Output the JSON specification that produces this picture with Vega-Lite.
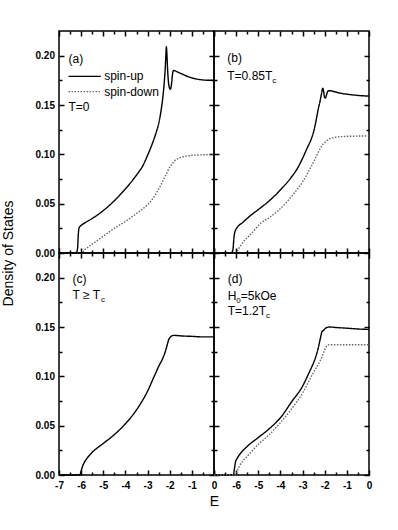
{
  "$schema": "https://vega.github.io/schema/vega-lite/v6.json",
  "padding": {"left": 0, "top": 29, "right": 5, "bottom": 5},
  "columns": 2,
  "spacing": 0,
  "bounds": "flush",
  "datasets": {
    "a": [
      {"E": -7, "DOS": 0, "spin": "spin-up"}, {"E": -6.5, "DOS": 0, "spin": "spin-up"}, {"E": -6.3, "DOS": 0.0003, "spin": "spin-up"}, {"E": -6.2, "DOS": 0.001, "spin": "spin-up"}, {"E": -6.16, "DOS": 0.005, "spin": "spin-up"}, {"E": -6.13, "DOS": 0.018, "spin": "spin-up"}, {"E": -6.1, "DOS": 0.025, "spin": "spin-up"}, {"E": -6.05, "DOS": 0.027, "spin": "spin-up"}, {"E": -6.0, "DOS": 0.028, "spin": "spin-up"}, {"E": -5.8, "DOS": 0.031, "spin": "spin-up"}, {"E": -5.5, "DOS": 0.035, "spin": "spin-up"}, {"E": -5.0, "DOS": 0.043, "spin": "spin-up"}, {"E": -4.5, "DOS": 0.053, "spin": "spin-up"}, {"E": -4.0, "DOS": 0.065, "spin": "spin-up"}, {"E": -3.5, "DOS": 0.079, "spin": "spin-up"}, {"E": -3.2, "DOS": 0.089, "spin": "spin-up"}, {"E": -3.0, "DOS": 0.099, "spin": "spin-up"}, {"E": -2.8, "DOS": 0.11, "spin": "spin-up"}, {"E": -2.6, "DOS": 0.123, "spin": "spin-up"}, {"E": -2.5, "DOS": 0.131, "spin": "spin-up"}, {"E": -2.4, "DOS": 0.143, "spin": "spin-up"}, {"E": -2.3, "DOS": 0.16, "spin": "spin-up"}, {"E": -2.25, "DOS": 0.172, "spin": "spin-up"}, {"E": -2.2, "DOS": 0.188, "spin": "spin-up"}, {"E": -2.17, "DOS": 0.202, "spin": "spin-up"}, {"E": -2.15, "DOS": 0.209, "spin": "spin-up"}, {"E": -2.13, "DOS": 0.203, "spin": "spin-up"}, {"E": -2.1, "DOS": 0.188, "spin": "spin-up"}, {"E": -2.06, "DOS": 0.174, "spin": "spin-up"}, {"E": -2.02, "DOS": 0.168, "spin": "spin-up"}, {"E": -1.97, "DOS": 0.166, "spin": "spin-up"}, {"E": -1.92, "DOS": 0.171, "spin": "spin-up"}, {"E": -1.88, "DOS": 0.18, "spin": "spin-up"}, {"E": -1.83, "DOS": 0.185, "spin": "spin-up"}, {"E": -1.75, "DOS": 0.1845, "spin": "spin-up"}, {"E": -1.6, "DOS": 0.183, "spin": "spin-up"}, {"E": -1.4, "DOS": 0.181, "spin": "spin-up"}, {"E": -1.2, "DOS": 0.179, "spin": "spin-up"}, {"E": -1.0, "DOS": 0.1775, "spin": "spin-up"}, {"E": -0.7, "DOS": 0.176, "spin": "spin-up"}, {"E": -0.4, "DOS": 0.1752, "spin": "spin-up"}, {"E": 0, "DOS": 0.175, "spin": "spin-up"},
      {"E": -7, "DOS": 0, "spin": "spin-down"}, {"E": -6.0, "DOS": 0, "spin": "spin-down"}, {"E": -5.8, "DOS": 0.004, "spin": "spin-down"}, {"E": -5.5, "DOS": 0.009, "spin": "spin-down"}, {"E": -5.0, "DOS": 0.017, "spin": "spin-down"}, {"E": -4.5, "DOS": 0.025, "spin": "spin-down"}, {"E": -4.0, "DOS": 0.032, "spin": "spin-down"}, {"E": -3.5, "DOS": 0.04, "spin": "spin-down"}, {"E": -3.2, "DOS": 0.045, "spin": "spin-down"}, {"E": -3.0, "DOS": 0.049, "spin": "spin-down"}, {"E": -2.8, "DOS": 0.054, "spin": "spin-down"}, {"E": -2.6, "DOS": 0.061, "spin": "spin-down"}, {"E": -2.4, "DOS": 0.069, "spin": "spin-down"}, {"E": -2.2, "DOS": 0.078, "spin": "spin-down"}, {"E": -2.0, "DOS": 0.087, "spin": "spin-down"}, {"E": -1.9, "DOS": 0.09, "spin": "spin-down"}, {"E": -1.8, "DOS": 0.093, "spin": "spin-down"}, {"E": -1.6, "DOS": 0.096, "spin": "spin-down"}, {"E": -1.4, "DOS": 0.0975, "spin": "spin-down"}, {"E": -1.2, "DOS": 0.0985, "spin": "spin-down"}, {"E": -1.0, "DOS": 0.099, "spin": "spin-down"}, {"E": -0.5, "DOS": 0.0995, "spin": "spin-down"}, {"E": 0, "DOS": 0.1, "spin": "spin-down"}
    ],
    "b": [
      {"E": -7, "DOS": 0, "spin": "spin-up"}, {"E": -6.5, "DOS": 0, "spin": "spin-up"}, {"E": -6.2, "DOS": 0.0005, "spin": "spin-up"}, {"E": -6.14, "DOS": 0.004, "spin": "spin-up"}, {"E": -6.11, "DOS": 0.013, "spin": "spin-up"}, {"E": -6.08, "DOS": 0.019, "spin": "spin-up"}, {"E": -6.03, "DOS": 0.023, "spin": "spin-up"}, {"E": -5.95, "DOS": 0.026, "spin": "spin-up"}, {"E": -5.7, "DOS": 0.031, "spin": "spin-up"}, {"E": -5.35, "DOS": 0.038, "spin": "spin-up"}, {"E": -5.0, "DOS": 0.044, "spin": "spin-up"}, {"E": -4.5, "DOS": 0.053, "spin": "spin-up"}, {"E": -4.0, "DOS": 0.064, "spin": "spin-up"}, {"E": -3.5, "DOS": 0.077, "spin": "spin-up"}, {"E": -3.2, "DOS": 0.087, "spin": "spin-up"}, {"E": -3.0, "DOS": 0.096, "spin": "spin-up"}, {"E": -2.8, "DOS": 0.106, "spin": "spin-up"}, {"E": -2.6, "DOS": 0.116, "spin": "spin-up"}, {"E": -2.5, "DOS": 0.123, "spin": "spin-up"}, {"E": -2.4, "DOS": 0.133, "spin": "spin-up"}, {"E": -2.3, "DOS": 0.145, "spin": "spin-up"}, {"E": -2.2, "DOS": 0.155, "spin": "spin-up"}, {"E": -2.14, "DOS": 0.162, "spin": "spin-up"}, {"E": -2.09, "DOS": 0.167, "spin": "spin-up"}, {"E": -2.05, "DOS": 0.164, "spin": "spin-up"}, {"E": -2.01, "DOS": 0.158, "spin": "spin-up"}, {"E": -1.97, "DOS": 0.157, "spin": "spin-up"}, {"E": -1.92, "DOS": 0.16, "spin": "spin-up"}, {"E": -1.86, "DOS": 0.164, "spin": "spin-up"}, {"E": -1.78, "DOS": 0.1645, "spin": "spin-up"}, {"E": -1.6, "DOS": 0.1637, "spin": "spin-up"}, {"E": -1.3, "DOS": 0.162, "spin": "spin-up"}, {"E": -1.0, "DOS": 0.161, "spin": "spin-up"}, {"E": -0.5, "DOS": 0.1597, "spin": "spin-up"}, {"E": 0, "DOS": 0.159, "spin": "spin-up"},
      {"E": -7, "DOS": 0, "spin": "spin-down"}, {"E": -6.02, "DOS": 0, "spin": "spin-down"}, {"E": -5.9, "DOS": 0.004, "spin": "spin-down"}, {"E": -5.65, "DOS": 0.012, "spin": "spin-down"}, {"E": -5.3, "DOS": 0.02, "spin": "spin-down"}, {"E": -4.9, "DOS": 0.03, "spin": "spin-down"}, {"E": -4.5, "DOS": 0.036, "spin": "spin-down"}, {"E": -4.1, "DOS": 0.043, "spin": "spin-down"}, {"E": -3.7, "DOS": 0.052, "spin": "spin-down"}, {"E": -3.4, "DOS": 0.06, "spin": "spin-down"}, {"E": -3.0, "DOS": 0.072, "spin": "spin-down"}, {"E": -2.65, "DOS": 0.086, "spin": "spin-down"}, {"E": -2.4, "DOS": 0.097, "spin": "spin-down"}, {"E": -2.2, "DOS": 0.106, "spin": "spin-down"}, {"E": -2.05, "DOS": 0.111, "spin": "spin-down"}, {"E": -1.95, "DOS": 0.113, "spin": "spin-down"}, {"E": -1.8, "DOS": 0.1155, "spin": "spin-down"}, {"E": -1.6, "DOS": 0.117, "spin": "spin-down"}, {"E": -1.2, "DOS": 0.118, "spin": "spin-down"}, {"E": -0.5, "DOS": 0.1185, "spin": "spin-down"}, {"E": 0, "DOS": 0.1187, "spin": "spin-down"}
    ],
    "c": [
      {"E": -7, "DOS": 0, "spin": "spin-up"}, {"E": -6.06, "DOS": 0, "spin": "spin-up"}, {"E": -6.0, "DOS": 0.004, "spin": "spin-up"}, {"E": -5.95, "DOS": 0.008, "spin": "spin-up"}, {"E": -5.85, "DOS": 0.013, "spin": "spin-up"}, {"E": -5.7, "DOS": 0.018, "spin": "spin-up"}, {"E": -5.5, "DOS": 0.023, "spin": "spin-up"}, {"E": -5.0, "DOS": 0.032, "spin": "spin-up"}, {"E": -4.5, "DOS": 0.041, "spin": "spin-up"}, {"E": -4.0, "DOS": 0.052, "spin": "spin-up"}, {"E": -3.5, "DOS": 0.066, "spin": "spin-up"}, {"E": -3.0, "DOS": 0.085, "spin": "spin-up"}, {"E": -2.7, "DOS": 0.1, "spin": "spin-up"}, {"E": -2.5, "DOS": 0.11, "spin": "spin-up"}, {"E": -2.3, "DOS": 0.119, "spin": "spin-up"}, {"E": -2.2, "DOS": 0.125, "spin": "spin-up"}, {"E": -2.1, "DOS": 0.133, "spin": "spin-up"}, {"E": -2.05, "DOS": 0.137, "spin": "spin-up"}, {"E": -2.0, "DOS": 0.139, "spin": "spin-up"}, {"E": -1.9, "DOS": 0.141, "spin": "spin-up"}, {"E": -1.8, "DOS": 0.1415, "spin": "spin-up"}, {"E": -1.5, "DOS": 0.141, "spin": "spin-up"}, {"E": -1.0, "DOS": 0.1405, "spin": "spin-up"}, {"E": -0.5, "DOS": 0.14, "spin": "spin-up"}, {"E": 0, "DOS": 0.14, "spin": "spin-up"}
    ],
    "d": [
      {"E": -7, "DOS": 0, "spin": "spin-up"}, {"E": -6.12, "DOS": 0, "spin": "spin-up"}, {"E": -6.08, "DOS": 0.006, "spin": "spin-up"}, {"E": -6.03, "DOS": 0.013, "spin": "spin-up"}, {"E": -5.95, "DOS": 0.017, "spin": "spin-up"}, {"E": -5.8, "DOS": 0.022, "spin": "spin-up"}, {"E": -5.5, "DOS": 0.029, "spin": "spin-up"}, {"E": -5.0, "DOS": 0.038, "spin": "spin-up"}, {"E": -4.5, "DOS": 0.047, "spin": "spin-up"}, {"E": -4.0, "DOS": 0.058, "spin": "spin-up"}, {"E": -3.5, "DOS": 0.074, "spin": "spin-up"}, {"E": -3.0, "DOS": 0.09, "spin": "spin-up"}, {"E": -2.7, "DOS": 0.104, "spin": "spin-up"}, {"E": -2.5, "DOS": 0.114, "spin": "spin-up"}, {"E": -2.4, "DOS": 0.12, "spin": "spin-up"}, {"E": -2.3, "DOS": 0.128, "spin": "spin-up"}, {"E": -2.2, "DOS": 0.138, "spin": "spin-up"}, {"E": -2.12, "DOS": 0.1455, "spin": "spin-up"}, {"E": -2.06, "DOS": 0.1465, "spin": "spin-up"}, {"E": -2.0, "DOS": 0.148, "spin": "spin-up"}, {"E": -1.9, "DOS": 0.1495, "spin": "spin-up"}, {"E": -1.8, "DOS": 0.15, "spin": "spin-up"}, {"E": -1.5, "DOS": 0.1495, "spin": "spin-up"}, {"E": -1.0, "DOS": 0.1488, "spin": "spin-up"}, {"E": -0.5, "DOS": 0.148, "spin": "spin-up"}, {"E": 0, "DOS": 0.1475, "spin": "spin-up"},
      {"E": -7, "DOS": 0, "spin": "spin-down"}, {"E": -6.0, "DOS": 0, "spin": "spin-down"}, {"E": -5.95, "DOS": 0.004, "spin": "spin-down"}, {"E": -5.85, "DOS": 0.009, "spin": "spin-down"}, {"E": -5.7, "DOS": 0.014, "spin": "spin-down"}, {"E": -5.5, "DOS": 0.019, "spin": "spin-down"}, {"E": -5.0, "DOS": 0.031, "spin": "spin-down"}, {"E": -4.5, "DOS": 0.041, "spin": "spin-down"}, {"E": -4.0, "DOS": 0.053, "spin": "spin-down"}, {"E": -3.5, "DOS": 0.067, "spin": "spin-down"}, {"E": -3.0, "DOS": 0.083, "spin": "spin-down"}, {"E": -2.65, "DOS": 0.098, "spin": "spin-down"}, {"E": -2.4, "DOS": 0.108, "spin": "spin-down"}, {"E": -2.2, "DOS": 0.116, "spin": "spin-down"}, {"E": -2.1, "DOS": 0.121, "spin": "spin-down"}, {"E": -2.0, "DOS": 0.127, "spin": "spin-down"}, {"E": -1.9, "DOS": 0.131, "spin": "spin-down"}, {"E": -1.8, "DOS": 0.132, "spin": "spin-down"}, {"E": -1.0, "DOS": 0.132, "spin": "spin-down"}, {"E": 0, "DOS": 0.132, "spin": "spin-down"}
    ]
  },
  "concat": [
    {
      "width": 155, "height": 222,
      "data": {"name": "a"},
      "resolve": {"axis": {"x": "independent", "y": "independent"}},
      "layer": [
        {"mark": {"type": "line", "interpolate": "monotone", "strokeWidth": 1.4},
         "encoding": {
           "x": {"field": "E", "type": "quantitative", "scale": {"domain": [-7, 0], "nice": false, "zero": false}, "axis": {"orient": "top", "offset": -222, "values": [-7, -6, -5, -4, -3, -2, -1, 0], "tickSize": 5, "labels": false, "title": null}},
           "y": {"field": "DOS", "type": "quantitative", "scale": {"domain": [0, 0.225], "nice": false}, "axis": {"orient": "right", "offset": -155, "values": [0, 0.05, 0.1, 0.15, 0.2], "tickSize": 5, "labels": false, "title": null}},
           "color": {"field": "spin", "type": "nominal", "scale": {"domain": ["spin-up", "spin-down"], "range": ["black", "#666666"]}, "legend": null},
           "strokeDash": {"field": "spin", "type": "nominal", "scale": {"domain": ["spin-up", "spin-down"], "range": [[1, 0], [1.5, 1.5]]}, "legend": null}
         }},
        {"mark": {"type": "point", "opacity": 0},
         "encoding": {
           "x": {"field": "E", "type": "quantitative", "axis": {"orient": "bottom", "offset": -222, "values": [-7, -6, -5, -4, -3, -2, -1, 0], "tickSize": 5, "labels": false, "title": null}},
           "y": {"field": "DOS", "type": "quantitative", "axis": {"orient": "left", "offset": -155, "values": [0, 0.05, 0.1, 0.15, 0.2], "tickSize": 5, "labels": false, "title": null}}
         }},
        {"mark": {"type": "point", "opacity": 0},
         "encoding": {
           "x": {"field": "E", "type": "quantitative", "axis": {"orient": "top", "offset": -222, "values": [-6.5, -5.5, -4.5, -3.5, -2.5, -1.5, -0.5], "tickSize": 3, "labels": false, "title": null}},
           "y": {"field": "DOS", "type": "quantitative", "axis": {"orient": "right", "offset": -155, "values": [0.025, 0.075, 0.125, 0.175], "tickSize": 3, "labels": false, "title": null}}
         }},
        {"mark": {"type": "point", "opacity": 0},
         "encoding": {
           "x": {"field": "E", "type": "quantitative", "axis": {"orient": "bottom", "offset": -222, "values": [-6.5, -5.5, -4.5, -3.5, -2.5, -1.5, -0.5], "tickSize": 3, "labels": false, "title": null}},
           "y": {"field": "DOS", "type": "quantitative", "axis": {"orient": "left", "offset": -155, "values": [0.025, 0.075, 0.125, 0.175], "tickSize": 3, "labels": false, "title": null}}
         }},
        {"mark": {"type": "point", "opacity": 0},
         "encoding": {
           "x": {"field": "E", "type": "quantitative", "axis": null},
           "y": {"field": "DOS", "type": "quantitative", "axis": {"orient": "left", "values": [0, 0.05, 0.1, 0.15, 0.2], "ticks": false, "tickSize": 0, "format": ".2f", "labelPadding": 4.5, "title": "Density of States", "titleX": -50.5, "titleY": 222, "titleBaseline": "middle", "titleAlign": "center", "titleAngle": -90}}
         }},
        {"data": {"values": [{}]}, "mark": {"type": "text", "text": "(a)", "align": "left", "baseline": "middle"},
         "encoding": {"x": {"datum": -6.57, "type": "quantitative", "axis": null}, "y": {"datum": 0.1966, "type": "quantitative", "axis": null}}},
        {"data": {"values": [{}]}, "mark": {"type": "text", "text": "T=0", "align": "left", "baseline": "middle"},
         "encoding": {"x": {"datum": -6.57, "type": "quantitative", "axis": null}, "y": {"datum": 0.1477, "type": "quantitative", "axis": null}}},
        {"data": {"values": [{}]}, "mark": {"type": "rule", "color": "black", "strokeWidth": 1.4},
         "encoding": {"x": {"datum": -6.57, "type": "quantitative", "axis": null}, "x2": {"datum": -5.11}, "y": {"datum": 0.179, "type": "quantitative", "axis": null}}},
        {"data": {"values": [{}]}, "mark": {"type": "rule", "color": "#666666", "strokeWidth": 1.4, "strokeDash": [1.5, 1.5]},
         "encoding": {"x": {"datum": -6.57, "type": "quantitative", "axis": null}, "x2": {"datum": -5.11}, "y": {"datum": 0.1636, "type": "quantitative", "axis": null}}},
        {"data": {"values": [{}]}, "mark": {"type": "text", "text": "spin-up", "align": "left", "baseline": "middle"},
         "encoding": {"x": {"datum": -4.96, "type": "quantitative", "axis": null}, "y": {"datum": 0.179, "type": "quantitative", "axis": null}}},
        {"data": {"values": [{}]}, "mark": {"type": "text", "text": "spin-down", "align": "left", "baseline": "middle"},
         "encoding": {"x": {"datum": -4.96, "type": "quantitative", "axis": null}, "y": {"datum": 0.1636, "type": "quantitative", "axis": null}}}
      ]
    },
    {
      "width": 155, "height": 222,
      "data": {"name": "b"},
      "resolve": {"axis": {"x": "independent", "y": "independent"}},
      "layer": [
        {"mark": {"type": "line", "interpolate": "monotone", "strokeWidth": 1.4},
         "encoding": {
           "x": {"field": "E", "type": "quantitative", "scale": {"domain": [-7, 0], "nice": false, "zero": false}, "axis": {"orient": "top", "offset": -222, "values": [-7, -6, -5, -4, -3, -2, -1, 0], "tickSize": 5, "labels": false, "title": null}},
           "y": {"field": "DOS", "type": "quantitative", "scale": {"domain": [0, 0.225], "nice": false}, "axis": {"orient": "right", "offset": -155, "values": [0, 0.05, 0.1, 0.15, 0.2], "tickSize": 5, "labels": false, "title": null}},
           "color": {"field": "spin", "type": "nominal", "scale": {"domain": ["spin-up", "spin-down"], "range": ["black", "#666666"]}, "legend": null},
           "strokeDash": {"field": "spin", "type": "nominal", "scale": {"domain": ["spin-up", "spin-down"], "range": [[1, 0], [1.5, 1.5]]}, "legend": null}
         }},
        {"mark": {"type": "point", "opacity": 0},
         "encoding": {
           "x": {"field": "E", "type": "quantitative", "axis": {"orient": "bottom", "offset": -222, "values": [-7, -6, -5, -4, -3, -2, -1, 0], "tickSize": 5, "labels": false, "title": null}},
           "y": {"field": "DOS", "type": "quantitative", "axis": {"orient": "left", "offset": -155, "values": [0, 0.05, 0.1, 0.15, 0.2], "tickSize": 5, "labels": false, "title": null}}
         }},
        {"mark": {"type": "point", "opacity": 0},
         "encoding": {
           "x": {"field": "E", "type": "quantitative", "axis": {"orient": "top", "offset": -222, "values": [-6.5, -5.5, -4.5, -3.5, -2.5, -1.5, -0.5], "tickSize": 3, "labels": false, "title": null}},
           "y": {"field": "DOS", "type": "quantitative", "axis": {"orient": "right", "offset": -155, "values": [0.025, 0.075, 0.125, 0.175], "tickSize": 3, "labels": false, "title": null}}
         }},
        {"mark": {"type": "point", "opacity": 0},
         "encoding": {
           "x": {"field": "E", "type": "quantitative", "axis": {"orient": "bottom", "offset": -222, "values": [-6.5, -5.5, -4.5, -3.5, -2.5, -1.5, -0.5], "tickSize": 3, "labels": false, "title": null}},
           "y": {"field": "DOS", "type": "quantitative", "axis": {"orient": "left", "offset": -155, "values": [0.025, 0.075, 0.125, 0.175], "tickSize": 3, "labels": false, "title": null}}
         }},
        {"data": {"values": [{}]}, "mark": {"type": "text", "text": "(b)", "align": "left", "baseline": "middle"},
         "encoding": {"x": {"datum": -6.4, "type": "quantitative", "axis": null}, "y": {"datum": 0.1976, "type": "quantitative", "axis": null}}},
        {"data": {"values": [{}]}, "mark": {"type": "text", "text": "T=0.85T", "align": "left", "baseline": "middle"},
         "encoding": {"x": {"datum": -6.4, "type": "quantitative", "axis": null}, "y": {"datum": 0.179, "type": "quantitative", "axis": null}}},
        {"data": {"values": [{}]}, "mark": {"type": "text", "text": "c", "align": "left", "baseline": "middle", "fontSize": 8},
         "encoding": {"x": {"datum": -4.37, "type": "quantitative", "axis": null}, "y": {"datum": 0.174, "type": "quantitative", "axis": null}}}
      ]
    },
    {
      "width": 155, "height": 222,
      "data": {"name": "c"},
      "resolve": {"axis": {"x": "independent", "y": "independent"}},
      "layer": [
        {"mark": {"type": "line", "interpolate": "monotone", "strokeWidth": 1.4},
         "encoding": {
           "x": {"field": "E", "type": "quantitative", "scale": {"domain": [-7, 0], "nice": false, "zero": false}, "axis": {"orient": "top", "offset": -222, "values": [-7, -6, -5, -4, -3, -2, -1, 0], "tickSize": 5, "labels": false, "title": null}},
           "y": {"field": "DOS", "type": "quantitative", "scale": {"domain": [0, 0.225], "nice": false}, "axis": {"orient": "right", "offset": -155, "values": [0, 0.05, 0.1, 0.15, 0.2], "tickSize": 5, "labels": false, "title": null}},
           "color": {"field": "spin", "type": "nominal", "scale": {"domain": ["spin-up", "spin-down"], "range": ["black", "#666666"]}, "legend": null},
           "strokeDash": {"field": "spin", "type": "nominal", "scale": {"domain": ["spin-up", "spin-down"], "range": [[1, 0], [1.5, 1.5]]}, "legend": null}
         }},
        {"mark": {"type": "point", "opacity": 0},
         "encoding": {
           "x": {"field": "E", "type": "quantitative", "axis": {"orient": "bottom", "offset": -222, "values": [-7, -6, -5, -4, -3, -2, -1, 0], "tickSize": 5, "labels": false, "title": null}},
           "y": {"field": "DOS", "type": "quantitative", "axis": {"orient": "left", "offset": -155, "values": [0, 0.05, 0.1, 0.15, 0.2], "tickSize": 5, "labels": false, "title": null}}
         }},
        {"mark": {"type": "point", "opacity": 0},
         "encoding": {
           "x": {"field": "E", "type": "quantitative", "axis": {"orient": "top", "offset": -222, "values": [-6.5, -5.5, -4.5, -3.5, -2.5, -1.5, -0.5], "tickSize": 3, "labels": false, "title": null}},
           "y": {"field": "DOS", "type": "quantitative", "axis": {"orient": "right", "offset": -155, "values": [0.025, 0.075, 0.125, 0.175], "tickSize": 3, "labels": false, "title": null}}
         }},
        {"mark": {"type": "point", "opacity": 0},
         "encoding": {
           "x": {"field": "E", "type": "quantitative", "axis": {"orient": "bottom", "offset": -222, "values": [-6.5, -5.5, -4.5, -3.5, -2.5, -1.5, -0.5], "tickSize": 3, "labels": false, "title": null}},
           "y": {"field": "DOS", "type": "quantitative", "axis": {"orient": "left", "offset": -155, "values": [0.025, 0.075, 0.125, 0.175], "tickSize": 3, "labels": false, "title": null}}
         }},
        {"mark": {"type": "point", "opacity": 0},
         "encoding": {
           "x": {"field": "E", "type": "quantitative", "axis": {"orient": "bottom", "values": [-7, -6, -5, -4, -3, -2, -1, 0], "ticks": false, "tickSize": 0, "labelPadding": 5, "labelExpr": "'' + datum.value", "title": "E", "titleX": 155, "titleY": 26.5, "titleBaseline": "middle", "titleAlign": "center"}},
           "y": {"field": "DOS", "type": "quantitative", "axis": {"orient": "left", "values": [0, 0.05, 0.1, 0.15, 0.2], "ticks": false, "tickSize": 0, "format": ".2f", "labelPadding": 4.5, "title": null}}
         }},
        {"data": {"values": [{}]}, "mark": {"type": "text", "text": "(c)", "align": "left", "baseline": "middle"},
         "encoding": {"x": {"datum": -6.39, "type": "quantitative", "axis": null}, "y": {"datum": 0.199, "type": "quantitative", "axis": null}}},
        {"data": {"values": [{}]}, "mark": {"type": "text", "text": "T ≥ T", "align": "left", "baseline": "middle"},
         "encoding": {"x": {"datum": -6.39, "type": "quantitative", "axis": null}, "y": {"datum": 0.1826, "type": "quantitative", "axis": null}}},
        {"data": {"values": [{}]}, "mark": {"type": "text", "text": "c", "align": "left", "baseline": "middle", "fontSize": 8},
         "encoding": {"x": {"datum": -5.1, "type": "quantitative", "axis": null}, "y": {"datum": 0.1776, "type": "quantitative", "axis": null}}}
      ]
    },
    {
      "width": 155, "height": 222,
      "data": {"name": "d"},
      "resolve": {"axis": {"x": "independent", "y": "independent"}},
      "layer": [
        {"mark": {"type": "line", "interpolate": "monotone", "strokeWidth": 1.4},
         "encoding": {
           "x": {"field": "E", "type": "quantitative", "scale": {"domain": [-7, 0], "nice": false, "zero": false}, "axis": {"orient": "top", "offset": -222, "values": [-7, -6, -5, -4, -3, -2, -1, 0], "tickSize": 5, "labels": false, "title": null}},
           "y": {"field": "DOS", "type": "quantitative", "scale": {"domain": [0, 0.225], "nice": false}, "axis": {"orient": "right", "offset": -155, "values": [0, 0.05, 0.1, 0.15, 0.2], "tickSize": 5, "labels": false, "title": null}},
           "color": {"field": "spin", "type": "nominal", "scale": {"domain": ["spin-up", "spin-down"], "range": ["black", "#666666"]}, "legend": null},
           "strokeDash": {"field": "spin", "type": "nominal", "scale": {"domain": ["spin-up", "spin-down"], "range": [[1, 0], [1.5, 1.5]]}, "legend": null}
         }},
        {"mark": {"type": "point", "opacity": 0},
         "encoding": {
           "x": {"field": "E", "type": "quantitative", "axis": {"orient": "bottom", "offset": -222, "values": [-7, -6, -5, -4, -3, -2, -1, 0], "tickSize": 5, "labels": false, "title": null}},
           "y": {"field": "DOS", "type": "quantitative", "axis": {"orient": "left", "offset": -155, "values": [0, 0.05, 0.1, 0.15, 0.2], "tickSize": 5, "labels": false, "title": null}}
         }},
        {"mark": {"type": "point", "opacity": 0},
         "encoding": {
           "x": {"field": "E", "type": "quantitative", "axis": {"orient": "top", "offset": -222, "values": [-6.5, -5.5, -4.5, -3.5, -2.5, -1.5, -0.5], "tickSize": 3, "labels": false, "title": null}},
           "y": {"field": "DOS", "type": "quantitative", "axis": {"orient": "right", "offset": -155, "values": [0.025, 0.075, 0.125, 0.175], "tickSize": 3, "labels": false, "title": null}}
         }},
        {"mark": {"type": "point", "opacity": 0},
         "encoding": {
           "x": {"field": "E", "type": "quantitative", "axis": {"orient": "bottom", "offset": -222, "values": [-6.5, -5.5, -4.5, -3.5, -2.5, -1.5, -0.5], "tickSize": 3, "labels": false, "title": null}},
           "y": {"field": "DOS", "type": "quantitative", "axis": {"orient": "left", "offset": -155, "values": [0.025, 0.075, 0.125, 0.175], "tickSize": 3, "labels": false, "title": null}}
         }},
        {"mark": {"type": "point", "opacity": 0},
         "encoding": {
           "x": {"field": "E", "type": "quantitative", "axis": {"orient": "bottom", "values": [-6, -5, -4, -3, -2, -1, 0], "ticks": false, "tickSize": 0, "labelPadding": 5, "labelExpr": "'' + datum.value", "title": null}},
           "y": {"field": "DOS", "type": "quantitative", "axis": null}
         }},
        {"data": {"values": [{}]}, "mark": {"type": "text", "text": "(d)", "align": "left", "baseline": "middle"},
         "encoding": {"x": {"datum": -6.38, "type": "quantitative", "axis": null}, "y": {"datum": 0.1983, "type": "quantitative", "axis": null}}},
        {"data": {"values": [{}]}, "mark": {"type": "text", "text": "H", "align": "left", "baseline": "middle"},
         "encoding": {"x": {"datum": -6.38, "type": "quantitative", "axis": null}, "y": {"datum": 0.1816, "type": "quantitative", "axis": null}}},
        {"data": {"values": [{}]}, "mark": {"type": "text", "text": "0", "align": "left", "baseline": "middle", "fontSize": 8},
         "encoding": {"x": {"datum": -5.99, "type": "quantitative", "axis": null}, "y": {"datum": 0.1766, "type": "quantitative", "axis": null}}},
        {"data": {"values": [{}]}, "mark": {"type": "text", "text": "=5kOe", "align": "left", "baseline": "middle"},
         "encoding": {"x": {"datum": -5.79, "type": "quantitative", "axis": null}, "y": {"datum": 0.1816, "type": "quantitative", "axis": null}}},
        {"data": {"values": [{}]}, "mark": {"type": "text", "text": "T=1.2T", "align": "left", "baseline": "middle"},
         "encoding": {"x": {"datum": -6.38, "type": "quantitative", "axis": null}, "y": {"datum": 0.1664, "type": "quantitative", "axis": null}}},
        {"data": {"values": [{}]}, "mark": {"type": "text", "text": "c", "align": "left", "baseline": "middle", "fontSize": 8},
         "encoding": {"x": {"datum": -4.65, "type": "quantitative", "axis": null}, "y": {"datum": 0.1614, "type": "quantitative", "axis": null}}}
      ]
    }
  ],
  "config": {
    "view": {"stroke": "black", "strokeWidth": 1.5},
    "axis": {"domain": false, "grid": false, "tickColor": "black", "tickWidth": 1.5, "labelFont": "Liberation Sans", "labelFontSize": 10, "labelFontWeight": "bold", "labelColor": "black", "titleFont": "Liberation Sans", "titleFontSize": 14, "titleFontWeight": "normal", "titleColor": "black", "labelFlush": false, "labelOverlap": false},
    "text": {"font": "Liberation Sans", "fontSize": 12, "color": "black"}
  }
}
